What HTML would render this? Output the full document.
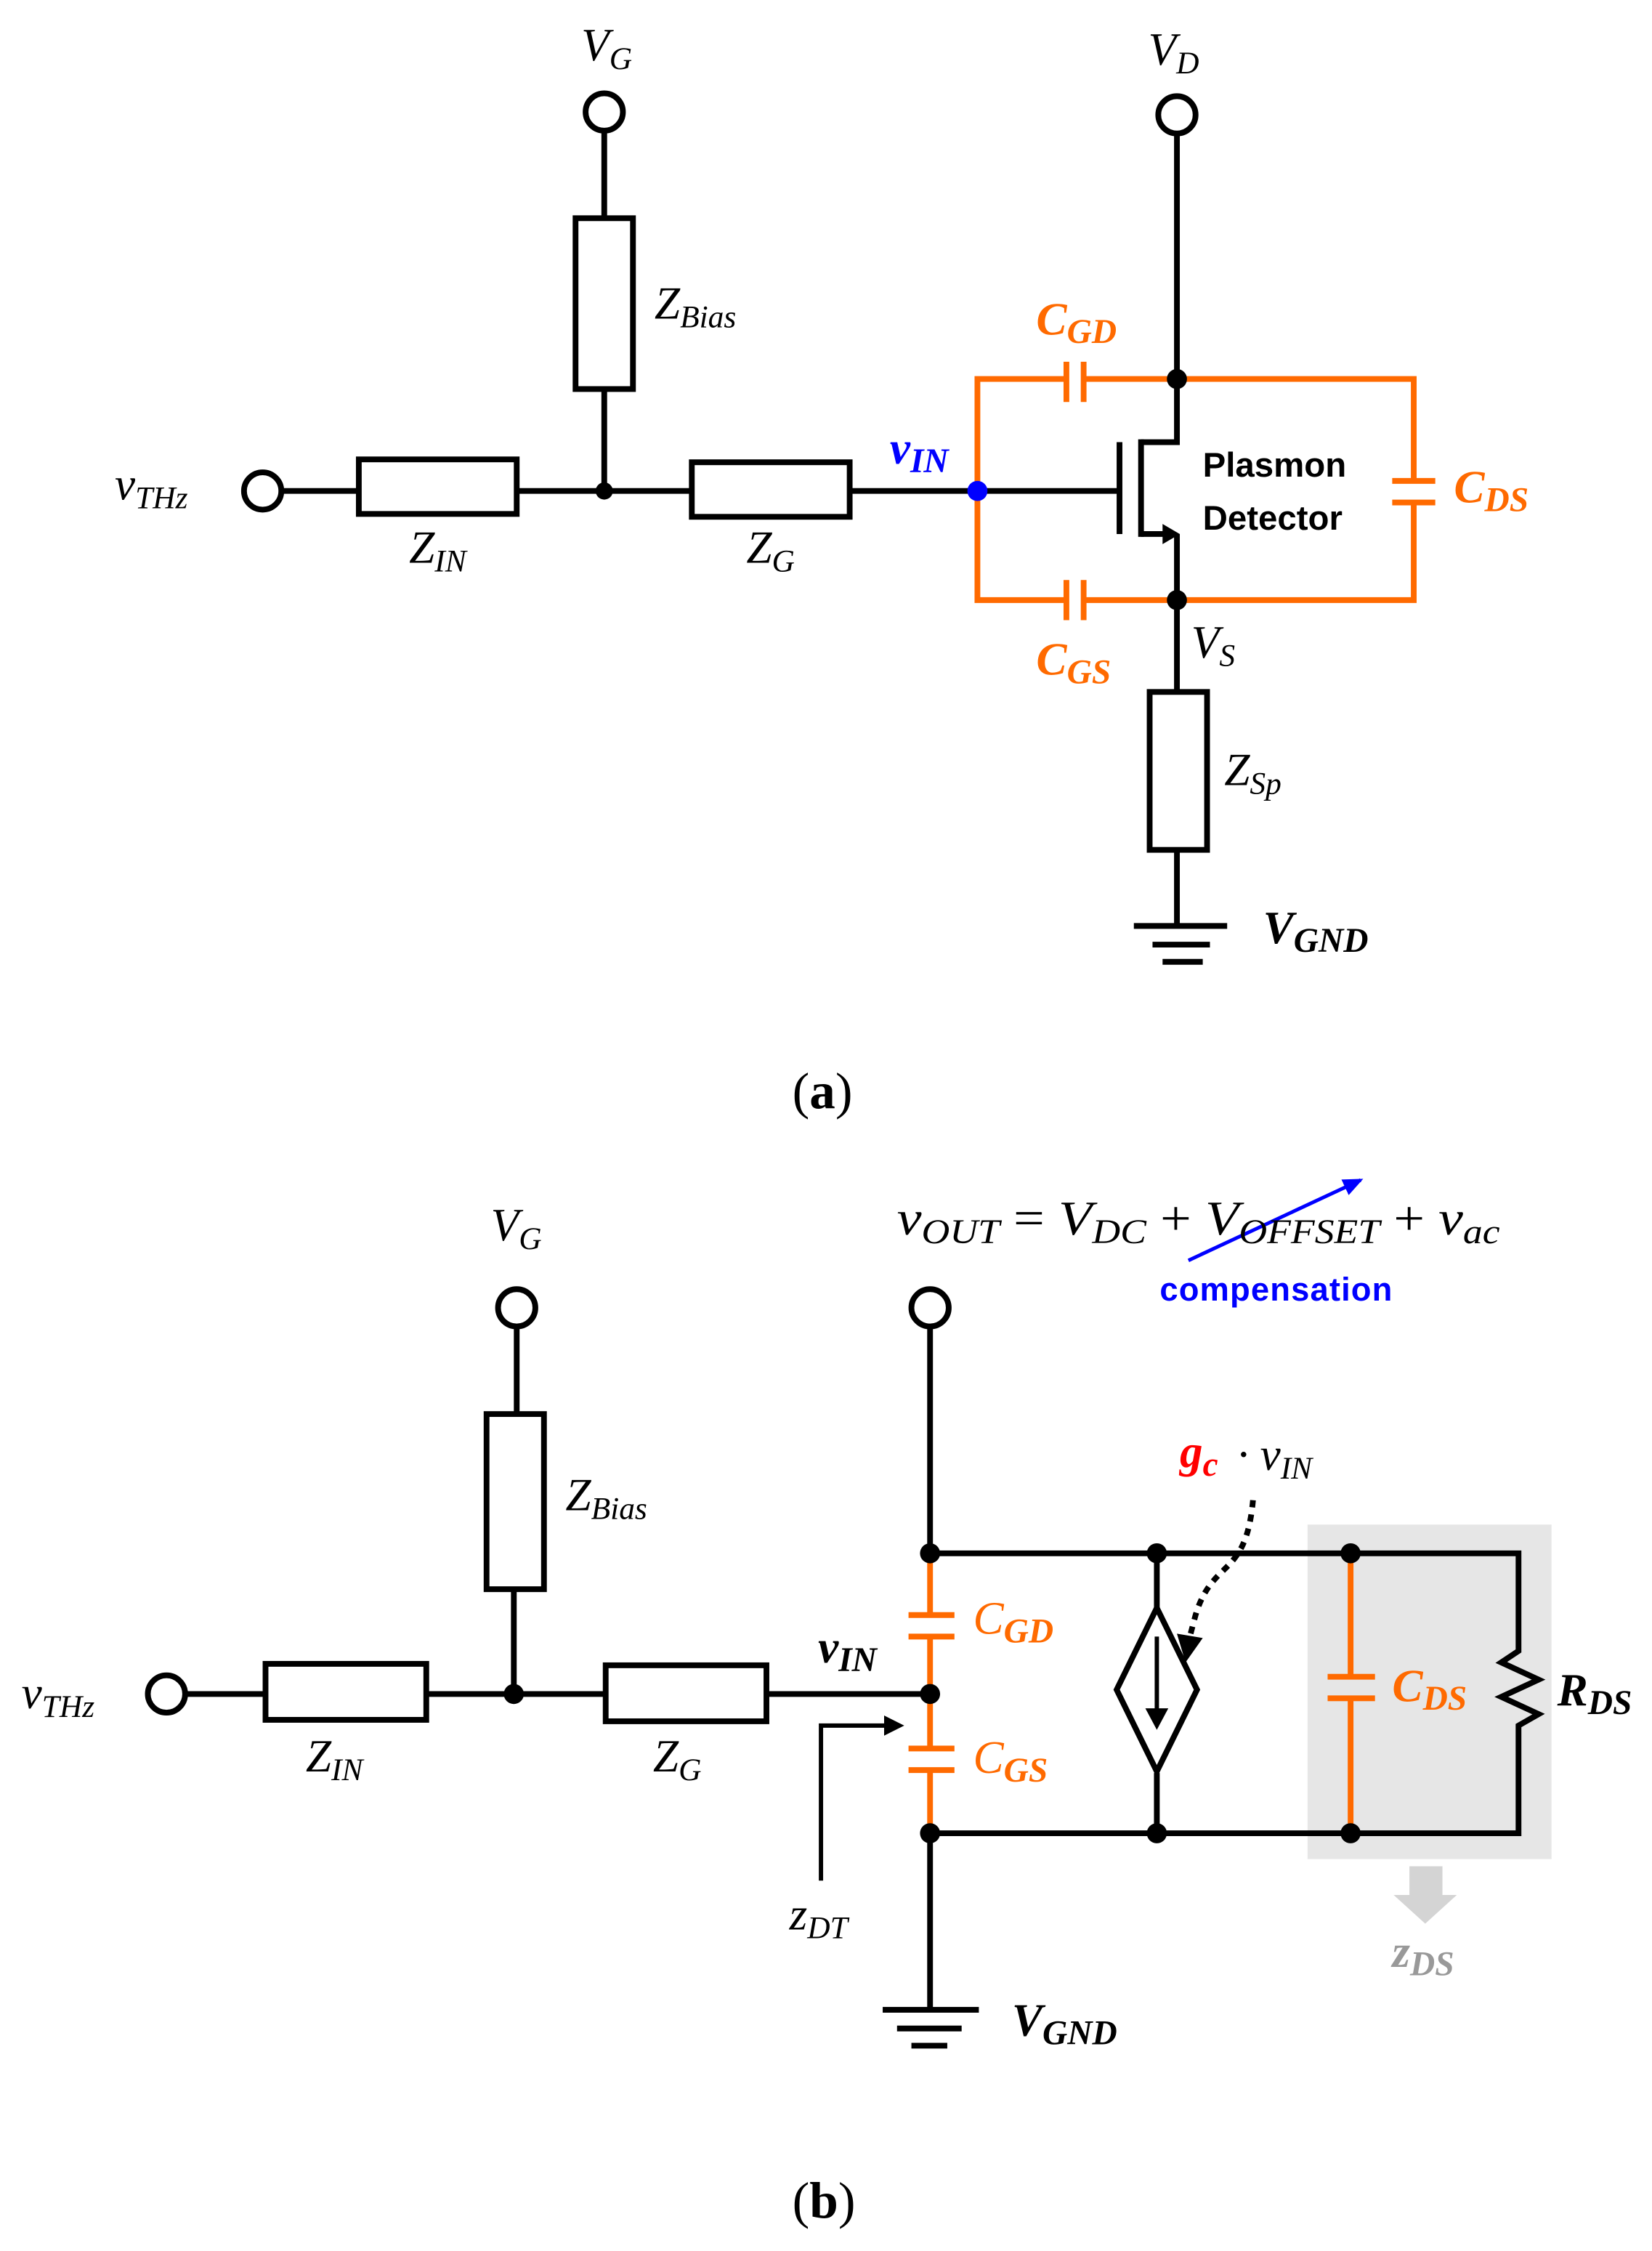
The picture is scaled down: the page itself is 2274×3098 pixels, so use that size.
<!DOCTYPE html>
<html><head><meta charset="utf-8"><style>
html,body{margin:0;padding:0;background:#fff}
svg{display:block}
.m{font-family:"Liberation Serif",serif;font-style:italic}
.b{font-family:"Liberation Sans",sans-serif;font-weight:bold}
</style></head><body>
<svg width="2274" height="3098" viewBox="0 0 1151 1568" preserveAspectRatio="none" xmlns="http://www.w3.org/2000/svg">
<defs>
<marker id="bh" markerWidth="14" markerHeight="12" refX="12" refY="6" orient="auto" markerUnits="userSpaceOnUse"><path d="M0,0 L14,6 L0,12z" fill="#00f"/></marker>
</defs>
<g fill="none" stroke="#000" stroke-width="4">
<circle cx="421" cy="78" r="13"/>
<line x1="421" y1="91" x2="421" y2="152"/>
<rect x="401" y="152" width="40" height="119"/>
<line x1="421" y1="271" x2="421" y2="342"/>
<circle cx="183" cy="342" r="13"/>
<line x1="196" y1="342" x2="250" y2="342"/>
<rect x="250" y="320" width="110" height="38"/>
<line x1="360" y1="342" x2="482" y2="342"/>
<rect x="482" y="322" width="110" height="38"/>
<line x1="592" y1="342" x2="780" y2="342"/>
<line x1="780" y1="308" x2="780" y2="372"/>
<line x1="795" y1="306" x2="795" y2="374"/>
<polyline points="795,308 820,308 820,264"/>
<polyline points="795,372 812,372"/>
<line x1="820" y1="372" x2="820" y2="418"/>
<circle cx="820" cy="80" r="13"/>
<line x1="820" y1="93" x2="820" y2="264"/>
<line x1="820" y1="418" x2="820" y2="482"/>
<rect x="801" y="482" width="40" height="110"/>
<line x1="820" y1="592" x2="820" y2="645"/>
<line x1="790" y1="645" x2="855" y2="645"/>
<line x1="803" y1="658" x2="843" y2="658"/>
<line x1="810" y1="670" x2="838" y2="670"/>
</g>
<path d="M810,365 L822,372 L810,379z" fill="#000"/>
<g fill="none" stroke="#ff6a00" stroke-width="4">
<polyline points="742,264 681,264 681,418 742,418"/>
<polyline points="756,264 985,264 985,335"/>
<polyline points="756,418 985,418 985,350"/>
<line x1="743" y1="252" x2="743" y2="280"/><line x1="755" y1="252" x2="755" y2="280"/>
<line x1="743" y1="404" x2="743" y2="432"/><line x1="755" y1="404" x2="755" y2="432"/>
<line x1="970" y1="335" x2="1000" y2="335"/><line x1="970" y1="350" x2="1000" y2="350"/>
</g>
<circle cx="421" cy="342" r="6"/><circle cx="820" cy="264" r="7"/><circle cx="820" cy="418" r="7"/>
<circle cx="681" cy="342" r="7" fill="#00f"/>
<g class="m" font-size="32">
<text x="405" y="42">V<tspan font-size="22" dy="6">G</tspan></text>
<text x="800" y="45">V<tspan font-size="22" dy="6">D</tspan></text>
<text x="456" y="222">Z<tspan font-size="22" dy="6">Bias</tspan></text>
<text x="80" y="348">v<tspan font-size="22" dy="6">THz</tspan></text>
<text x="285" y="392">Z<tspan font-size="22" dy="6">IN</tspan></text>
<text x="520" y="392">Z<tspan font-size="22" dy="6">G</tspan></text>
<text x="830" y="458">V<tspan font-size="22" dy="6">S</tspan></text>
<text x="853" y="547">Z<tspan font-size="22" dy="6">Sp</tspan></text>
<text x="620" y="323" fill="#00f" font-weight="bold">v<tspan font-size="24" dy="6">IN</tspan></text>
<text x="722" y="233" fill="#ff6a00" font-weight="bold">C<tspan font-size="24" dy="6">GD</tspan></text>
<text x="722" y="470" fill="#ff6a00" font-weight="bold">C<tspan font-size="24" dy="6">GS</tspan></text>
<text x="1013" y="350" fill="#ff6a00" font-weight="bold">C<tspan font-size="24" dy="6">DS</tspan></text>
<text x="880" y="657" font-weight="bold">V<tspan font-size="24" dy="6">GND</tspan></text>
</g>
<text class="b" x="838" y="332" font-size="24">Plasmon</text>
<text class="b" x="838" y="369" font-size="24">Detector</text>
<text x="552" y="772" font-family="Liberation Serif,serif" font-size="36">(<tspan font-weight="bold">a</tspan>)</text>

<rect x="911" y="1062" width="170" height="233" fill="#e6e6e6"/>
<g fill="none" stroke="#000" stroke-width="4">
<circle cx="360" cy="911" r="13"/>
<line x1="360" y1="924" x2="360" y2="985"/>
<rect x="339" y="985" width="40" height="122"/>
<line x1="358" y1="1107" x2="358" y2="1180"/>
<circle cx="116" cy="1180" r="13"/>
<line x1="129" y1="1180" x2="185" y2="1180"/>
<rect x="185" y="1159" width="112" height="39"/>
<line x1="297" y1="1180" x2="422" y2="1180"/>
<rect x="422" y="1160" width="112" height="39"/>
<line x1="534" y1="1180" x2="648" y2="1180"/>
<circle cx="648" cy="911" r="13"/>
<line x1="648" y1="924" x2="648" y2="1082"/>
<polyline points="648,1082 1058,1082 1058,1150 1046,1158 1072,1170 1046,1182 1072,1194 1058,1202 1058,1277 648,1277"/>
<line x1="648" y1="1277" x2="648" y2="1400"/>
<line x1="615" y1="1400" x2="682" y2="1400"/>
<line x1="625" y1="1413" x2="670" y2="1413"/>
<line x1="635" y1="1425" x2="660" y2="1425"/>
<line x1="806" y1="1082" x2="806" y2="1120"/>
<line x1="806" y1="1235" x2="806" y2="1277"/>
<polygon points="806,1120 834,1177 806,1234 778,1177"/>
<line x1="806" y1="1140" x2="806" y2="1195" stroke-width="3"/>
<polyline points="572,1310 572,1202 618,1202" stroke-width="3"/>
<path d="M873,1045 C868,1100 845,1085 833,1125 L829,1140" stroke-width="4" stroke-dasharray="5,5"/>
</g>
<path d="M798,1190 L814,1190 L806,1205z" fill="#000"/>
<path d="M616,1195 L630,1202 L616,1209z" fill="#000"/>
<path d="M820,1138 L838,1141 L826,1158z" fill="#000"/>
<g fill="none" stroke="#ff6a00" stroke-width="4">
<line x1="648" y1="1082" x2="648" y2="1125"/><line x1="648" y1="1140" x2="648" y2="1218"/><line x1="648" y1="1233" x2="648" y2="1277"/>
<line x1="633" y1="1125" x2="665" y2="1125"/><line x1="633" y1="1140" x2="665" y2="1140"/>
<line x1="633" y1="1218" x2="665" y2="1218"/><line x1="633" y1="1233" x2="665" y2="1233"/>
<line x1="941" y1="1082" x2="941" y2="1168"/><line x1="941" y1="1183" x2="941" y2="1277"/>
<line x1="925" y1="1168" x2="958" y2="1168"/><line x1="925" y1="1183" x2="958" y2="1183"/>
</g>
<g fill="#000">
<circle cx="358" cy="1180" r="7"/><circle cx="648" cy="1082" r="7"/><circle cx="648" cy="1180" r="7"/><circle cx="648" cy="1277" r="7"/>
<circle cx="806" cy="1082" r="7"/><circle cx="806" cy="1277" r="7"/><circle cx="941" cy="1082" r="7"/><circle cx="941" cy="1277" r="7"/>
</g>
<path d="M982,1300 H1005 V1320 H1015 L993,1340 L971,1320 H982z" fill="#d4d4d4"/>
<line x1="828" y1="878" x2="948" y2="822" stroke="#00f" stroke-width="2.5" marker-end="url(#bh)"/>
<g class="m" font-size="32">
<text x="342" y="864">V<tspan font-size="22" dy="6">G</tspan></text>
<text x="394" y="1052">Z<tspan font-size="22" dy="6">Bias</tspan></text>
<text x="15" y="1190">v<tspan font-size="22" dy="6">THz</tspan></text>
<text x="213" y="1234">Z<tspan font-size="22" dy="6">IN</tspan></text>
<text x="455" y="1234">Z<tspan font-size="22" dy="6">G</tspan></text>
<text x="570" y="1158" font-weight="bold">v<tspan font-size="24" dy="6">IN</tspan></text>
<text x="550" y="1344">z<tspan font-size="22" dy="6">DT</tspan></text>
<text x="705" y="1418" font-weight="bold">V<tspan font-size="24" dy="6">GND</tspan></text>
<text x="678" y="1138" fill="#ff6a00">C<tspan font-size="24" dy="6" font-weight="bold">GD</tspan></text>
<text x="678" y="1235" fill="#ff6a00">C<tspan font-size="24" dy="6" font-weight="bold">GS</tspan></text>
<text x="970" y="1185" fill="#ff6a00" font-weight="bold">C<tspan font-size="24" dy="6">DS</tspan></text>
<text x="1085" y="1188" font-weight="bold">R<tspan font-size="24" dy="6">DS</tspan></text>
<text x="970" y="1370" fill="#999" font-weight="bold">z<tspan font-size="24" dy="6">DS</tspan></text>
<text x="822" y="1022" fill="#f00" font-weight="bold">g<tspan font-size="24" dy="6">c</tspan></text>
<text x="862" y="1024">· v<tspan font-size="22" dy="6">IN</tspan></text>
<text x="625" y="860" font-size="34" textLength="420" lengthAdjust="spacingAndGlyphs">v<tspan font-size="24" dy="6">OUT</tspan><tspan dy="-6" font-style="normal"> = </tspan>V<tspan font-size="24" dy="6">DC</tspan><tspan dy="-6" font-style="normal"> + </tspan>V<tspan font-size="24" dy="6">OFFSET</tspan><tspan dy="-6" font-style="normal"> + </tspan>v<tspan font-size="24" dy="6">ac</tspan></text>
</g>
<text class="b" x="808" y="906" font-size="23" fill="#00f" textLength="162">compensation</text>
<text x="552" y="1545" font-family="Liberation Serif,serif" font-size="36">(<tspan font-weight="bold">b</tspan>)</text>
</svg>
</body></html>
